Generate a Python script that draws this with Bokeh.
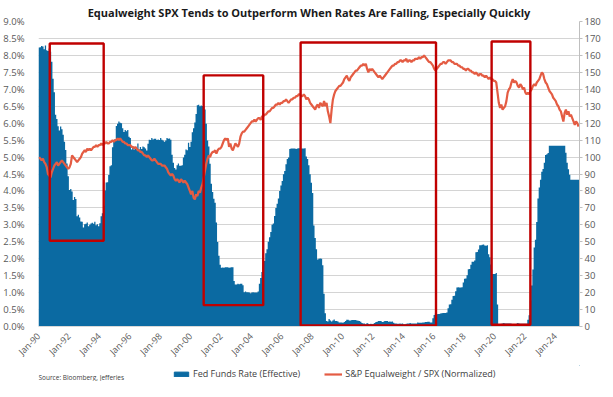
import math
from bokeh.plotting import figure
from bokeh.layouts import column
from bokeh.models import (LinearAxis, Range1d, FixedTicker, PrintfTickFormatter,
                          Legend, LegendItem, Label, ColumnDataSource)
from bokeh.embed import file_html
from bokeh.resources import INLINE

start_year = 1990
tick_years = list(range(1990, 2025, 2))
tick_labels = ["Jan-%02d" % (y % 100) for y in tick_years]

# Fed Funds Rate (Effective), monthly, % (Jan-1990 .. Jul-2025)
fed_funds = [
    8.23, 8.24, 8.28, 8.26, 8.18, 8.29, 8.15, 8.13, 8.20, 8.11, 7.81, 7.31,
    6.91, 6.25, 6.12, 5.91, 5.78, 5.90, 5.82, 5.66, 5.45, 5.21, 4.81, 4.43,
    4.03, 4.06, 3.98, 3.73, 3.82, 3.76, 3.25, 3.30, 3.22, 3.10, 3.09, 2.92,
    3.02, 3.03, 3.07, 2.96, 3.00, 3.04, 3.06, 3.03, 3.09, 2.99, 3.02, 2.96,
    3.05, 3.25, 3.34, 3.56, 4.01, 4.25, 4.26, 4.47, 4.73, 4.76, 5.29, 5.45,
    5.53, 5.92, 5.98, 6.05, 6.01, 6.00, 5.85, 5.74, 5.80, 5.76, 5.80, 5.60,
    5.56, 5.22, 5.31, 5.22, 5.24, 5.27, 5.40, 5.22, 5.30, 5.24, 5.31, 5.29,
    5.25, 5.19, 5.39, 5.51, 5.50, 5.56, 5.52, 5.54, 5.54, 5.50, 5.52, 5.50,
    5.56, 5.51, 5.49, 5.45, 5.49, 5.56, 5.54, 5.55, 5.51, 5.07, 4.83, 4.68,
    4.63, 4.76, 4.81, 4.74, 4.74, 4.76, 4.99, 5.07, 5.22, 5.20, 5.42, 5.30,
    5.45, 5.73, 5.85, 6.02, 6.27, 6.53, 6.54, 6.50, 6.52, 6.51, 6.51, 6.40,
    5.98, 5.49, 5.31, 4.80, 4.21, 3.97, 3.77, 3.65, 3.07, 2.49, 2.09, 1.82,
    1.73, 1.74, 1.73, 1.75, 1.75, 1.75, 1.73, 1.74, 1.75, 1.75, 1.34, 1.24,
    1.24, 1.26, 1.25, 1.26, 1.26, 1.22, 1.01, 1.03, 1.01, 1.01, 1.00, 0.98,
    1.00, 1.01, 1.00, 1.00, 1.00, 1.03, 1.26, 1.43, 1.61, 1.76, 1.93, 2.16,
    2.28, 2.50, 2.63, 2.79, 3.00, 3.04, 3.26, 3.50, 3.62, 3.78, 4.00, 4.16,
    4.29, 4.49, 4.59, 4.79, 4.94, 4.99, 5.24, 5.25, 5.25, 5.25, 5.25, 5.24,
    5.25, 5.26, 5.26, 5.25, 5.25, 5.25, 5.26, 5.02, 4.94, 4.76, 4.49, 4.24,
    3.94, 2.98, 2.61, 2.28, 1.98, 2.00, 2.01, 2.00, 1.81, 0.97, 0.39, 0.16,
    0.15, 0.22, 0.18, 0.15, 0.18, 0.21, 0.16, 0.16, 0.15, 0.12, 0.12, 0.12,
    0.11, 0.13, 0.16, 0.20, 0.20, 0.18, 0.18, 0.19, 0.19, 0.19, 0.19, 0.18,
    0.17, 0.16, 0.14, 0.10, 0.09, 0.09, 0.07, 0.10, 0.08, 0.07, 0.08, 0.07,
    0.08, 0.10, 0.13, 0.14, 0.16, 0.16, 0.16, 0.13, 0.14, 0.16, 0.16, 0.16,
    0.14, 0.15, 0.14, 0.15, 0.11, 0.09, 0.09, 0.08, 0.08, 0.09, 0.08, 0.09,
    0.07, 0.07, 0.08, 0.09, 0.09, 0.10, 0.09, 0.09, 0.09, 0.09, 0.09, 0.12,
    0.11, 0.11, 0.11, 0.12, 0.12, 0.13, 0.13, 0.14, 0.14, 0.12, 0.12, 0.24,
    0.34, 0.38, 0.36, 0.37, 0.37, 0.38, 0.39, 0.40, 0.40, 0.40, 0.41, 0.54,
    0.65, 0.66, 0.79, 0.90, 0.91, 1.04, 1.15, 1.16, 1.15, 1.15, 1.16, 1.30,
    1.41, 1.42, 1.51, 1.69, 1.70, 1.82, 1.91, 1.91, 1.95, 2.19, 2.20, 2.27,
    2.40, 2.40, 2.41, 2.42, 2.39, 2.38, 2.40, 2.13, 2.04, 1.83, 1.55, 1.55,
    1.55, 1.58, 0.65, 0.05, 0.05, 0.08, 0.09, 0.10, 0.09, 0.09, 0.09, 0.09,
    0.09, 0.08, 0.07, 0.07, 0.06, 0.08, 0.10, 0.09, 0.08, 0.08, 0.08, 0.08,
    0.08, 0.08, 0.20, 0.33, 0.77, 1.21, 1.68, 2.33, 2.56, 3.08, 3.78, 4.10,
    4.33, 4.57, 4.65, 4.83, 5.06, 5.08, 5.12, 5.33, 5.33, 5.33, 5.33, 5.33,
    5.33, 5.33, 5.33, 5.33, 5.33, 5.33, 5.33, 5.33, 5.13, 4.83, 4.64, 4.48,
    4.33, 4.33, 4.33, 4.33, 4.33, 4.33, 4.33,
]

# S&P Equalweight / SPX (Normalized), monthly (Jan-1990 .. Jul-2025)
ew_ratio = [
    100, 99, 98, 99, 97, 96, 94, 90, 89, 88, 91, 93,
    95, 96, 97, 95, 96, 97, 98, 97, 96, 95, 94, 93,
    94, 96, 101, 100, 99, 98, 97, 98, 99, 100, 102, 103,
    104, 103, 105, 104, 105, 104, 105, 106, 106, 107, 106, 107,
    107, 108, 107, 108, 108, 109, 108, 108, 109, 109, 110, 109,
    110, 110, 111, 110, 111, 110, 109, 109, 108, 108, 107, 107,
    107, 106, 106, 105, 106, 105, 104, 104, 103, 103, 102, 101,
    101, 100, 101, 100, 99, 98, 98, 99, 98, 97, 96, 96,
    96, 95, 95, 95, 94, 93, 91, 90, 89, 90, 89, 87,
    86, 87, 86, 85, 87, 86, 85, 86, 85, 84, 82, 80,
    78, 80, 76, 75, 78, 77, 80, 79, 82, 84, 88, 92,
    96, 99, 101, 100, 102, 103, 103, 104, 102, 104, 105, 105,
    106, 108, 110, 111, 110, 111, 106, 108, 105, 104, 106, 108,
    107, 106, 108, 112, 114, 115, 115, 116, 117, 118, 119, 120,
    121, 121, 122, 121, 122, 123, 123, 122, 124, 124, 125, 125,
    126, 127, 127, 128, 129, 129, 130, 131, 131, 132, 131, 132,
    132, 133, 133, 134, 133, 132, 133, 134, 134, 135, 135, 136,
    136, 137, 137, 136, 136, 137, 136, 134, 135, 134, 132, 131,
    130, 129, 128, 130, 131, 129, 132, 131, 130, 133, 130, 132,
    127, 124, 120, 128, 134, 137, 139, 140, 141, 142, 142, 143,
    144, 146, 147, 148, 146, 145, 147, 148, 149, 150, 151, 151,
    152, 153, 154, 154, 155, 154, 155, 152, 150, 152, 151, 152,
    151, 150, 149, 148, 147, 148, 147, 146, 147, 148, 149, 150,
    151, 152, 153, 154, 154, 155, 155, 156, 156, 157, 157, 156,
    157, 157, 158, 156, 157, 157, 156, 157, 157, 158, 158, 158,
    159, 158, 159, 159, 160, 159, 158, 157, 156, 156, 155, 154,
    152, 151, 152, 153, 154, 155, 155, 156, 156, 155, 156, 157,
    157, 157, 156, 156, 155, 155, 155, 154, 154, 153, 153, 152,
    152, 151, 152, 152, 151, 151, 150, 150, 149, 150, 149, 148,
    149, 149, 148, 148, 147, 148, 147, 146, 147, 146, 146, 145,
    145, 144, 138, 132, 129, 131, 128, 129, 130, 133, 138, 140,
    141, 144, 146, 144, 145, 144, 142, 141, 143, 142, 140, 141,
    138, 137, 138, 137, 139, 140, 142, 143, 142, 144, 145, 146,
    148, 150, 149, 146, 144, 143, 141, 139, 138, 137, 135, 134,
    133, 131, 130, 128, 127, 124, 121, 126, 128, 125, 127, 124,
    125, 123, 121, 119, 121, 120, 118,
]

# highlighted periods: (start year, end year, low %, high %)
boxes = [
    (1990.74, 1994.29, 2.53, 8.35),
    (2000.87, 2004.79, 0.63, 7.41),
    (2007.25, 2016.16, 0.03, 8.38),
    (2019.82, 2022.37, 0.05, 8.41),
]

title_text = "Equalweight SPX Tends to Outperform When Rates Are Falling, Especially Quickly"
source_text = "Source: Bloomberg, Jefferies"
legend_labels = ["Fed Funds Rate (Effective)", "S&P Equalweight / SPX (Normalized)"]

n = len(fed_funds)
x_mid = [start_year + (i + 0.5) / 12 for i in range(n)]
x_edge = [start_year + i / 12 for i in range(n + 1)]
line_src = ColumnDataSource(dict(x=x_mid, ew=ew_ratio))
area_src = ColumnDataSource(dict(x=x_edge, ff=fed_funds + [fed_funds[-1]]))

BLUE = "#0b6aa2"
RED = "#e45c43"
BOX = "#c00000"
FONT = "Open Sans"
TICK_COLOR = "#595959"

W = 603
STRIP_H = 16
p = figure(width=W, height=381 - STRIP_H, output_backend="svg",
           toolbar_location=None,
           x_range=Range1d(1990.0, x_edge[-1] + 0.02),
           y_range=Range1d(0, 9), min_border_left=29, min_border_right=0,
           min_border_top=0, min_border_bottom=0)
p.extra_y_ranges = {"ratio": Range1d(0, 180)}

p.title.text = title_text
p.title.align = "center"
p.title.text_font = FONT
p.title.text_font_size = "11px"
p.title.text_font_style = "bold"
p.title.text_color = "#1a1a1a"
p.title.standoff = 4

p.outline_line_color = None
p.xgrid.grid_line_color = None
p.ygrid.grid_line_color = "#d4d4d4"
p.ygrid.grid_line_width = 1.2
p.ygrid.ticker = FixedTicker(ticks=[i * 0.5 for i in range(19)])

area = p.varea_step(x="x", y1=0, y2="ff", step_mode="after", source=area_src,
                    fill_color=BLUE)
line = p.line(x="x", y="ew", source=line_src, y_range_name="ratio",
              line_color=RED, line_width=2.2)

for (x0, x1, y0, y1) in boxes:
    p.quad(left=x0, right=x1, bottom=y0, top=y1, fill_alpha=0,
           line_color=BOX, line_width=2.4)

# left axis
ya = p.yaxis[0]
ya.ticker = FixedTicker(ticks=[i * 0.5 for i in range(19)])
ya.formatter = PrintfTickFormatter(format="%.1f%%")
ya.axis_line_color = None
ya.major_tick_line_color = None
ya.minor_tick_line_color = None
ya.major_label_standoff = 8
ya.major_label_text_font = FONT
ya.major_label_text_font_size = "9.5px"
ya.major_label_text_color = TICK_COLOR

# right axis
ra = LinearAxis(y_range_name="ratio",
                ticker=FixedTicker(ticks=list(range(0, 181, 10))))
ra.axis_line_color = "#bfbfbf"
ra.major_tick_line_color = "#bfbfbf"
ra.major_tick_in = 0
ra.major_tick_out = 3
ra.minor_tick_line_color = None
ra.major_label_standoff = 2
ra.major_label_text_font = FONT
ra.major_label_text_font_size = "9.5px"
ra.major_label_text_color = TICK_COLOR
p.add_layout(ra, "right")

# bottom axis
xa = p.xaxis[0]
xa.ticker = FixedTicker(ticks=tick_years)
xa.major_label_overrides = {y: lab for y, lab in zip(tick_years, tick_labels)}
xa.major_label_orientation = math.pi / 4
xa.axis_line_color = "#d9d9d9"
xa.major_tick_line_color = None
xa.minor_tick_line_color = None
xa.major_label_standoff = 2
xa.major_label_text_font = FONT
xa.major_label_text_font_size = "9px"
xa.major_label_text_color = TICK_COLOR

# legend strip with source note, below the chart
lg = figure(width=W, height=STRIP_H, output_backend="svg", toolbar_location=None,
            x_range=Range1d(0, 1), y_range=Range1d(0, 1),
            min_border_left=0, min_border_right=0,
            min_border_top=0, min_border_bottom=0)
lg.xaxis.visible = False
lg.yaxis.visible = False
lg.xgrid.visible = False
lg.ygrid.visible = False
lg.outline_line_color = None
# swatch renderers sit outside the strip's ranges; only their legend glyphs show
sw_area = lg.vbar(x=[5], top=[5], bottom=[4], width=0.1,
                  fill_color=BLUE, line_color=BLUE)
sw_line = lg.line(x=[5, 6], y=[5, 5], line_color=RED, line_width=2.2)
legend = Legend(items=[LegendItem(label=legend_labels[0], renderers=[sw_area]),
                       LegendItem(label=legend_labels[1], renderers=[sw_line])],
                orientation="horizontal", location=(134, 1),
                border_line_color=None, background_fill_alpha=0,
                label_text_font=FONT, label_text_font_size="9px",
                label_text_color="#404040", glyph_width=18, glyph_height=6,
                label_height=12, spacing=24, padding=0, margin=0,
                label_standoff=3)
lg.add_layout(legend, "center")
lg.add_layout(Label(x=0, y=0, x_units="screen", y_units="screen",
                    text=source_text, text_font=FONT, text_baseline="bottom",
                    text_font_size="6.5px", text_color="#404040"))

layout = column(p, lg)
open("out.html", "w").write(file_html(layout, INLINE))
